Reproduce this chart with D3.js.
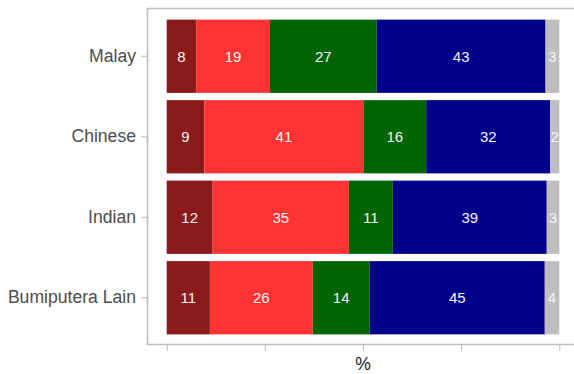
<!DOCTYPE html>
<html><head><meta charset="utf-8">
<script src="https://cdn.jsdelivr.net/npm/d3@7"></script>
<style>body{margin:0;background:#fff}svg{display:block}</style>
</head><body>
<script>
const categories = ["Malay", "Chinese", "Indian", "Bumiputera Lain"];
const seriesNames = ["s1", "s2", "s3", "s4", "s5"];
// bar shares (%) as measured from the bar lengths
const s1 = [7.5, 9.6, 11.7, 11.0];
const s2 = [18.8, 40.5, 34.7, 26.2];
const s3 = [27.2, 16.0, 11.2, 14.5];
const s4 = [43.0, 31.6, 39.2, 44.6];
const s5 = [3.5, 2.3, 3.2, 3.7];
// printed labels
const l1 = [8, 9, 12, 11];
const l2 = [19, 41, 35, 26];
const l3 = [27, 16, 11, 14];
const l4 = [43, 32, 39, 45];
const l5 = [3, 2, 3, 4];
const colors = ["#8B1A1A", "#FF3333", "#006400", "#00008B", "#BEBEBE"];
const xTicks = [0, 25, 50, 75, 100];
const xLabel = "%";

const W = 574, H = 374;
const svg = d3.select("body").append("svg").attr("width", W).attr("height", H);
const font = "'Liberation Sans', Arial, Helvetica, sans-serif";

const x = d3.scaleLinear().domain([0, 100]).range([166.7, 559.3]);
const y = d3.scaleBand().domain(categories).range([16, 338]).paddingInner(0.09).paddingOuter(0.045);

const series = [s1, s2, s3, s4, s5];
const labels = [l1, l2, l3, l4, l5];
const rows = categories.map((c, i) => {
  const r = {cat: c, idx: i};
  seriesNames.forEach((s, j) => r[s] = series[j][i]);
  return r;
});
const stacked = d3.stack().keys(seriesNames)(rows);

// panel border
svg.append("path")
  .attr("d", `M${W + 2},8.5 H147.5 V344.5 H${W + 2}`)
  .attr("fill", "none").attr("stroke", "#BDBDBD").attr("stroke-width", 1.6);

const g = svg.append("g");
stacked.forEach((layer, j) => {
  g.selectAll(null).data(layer).enter().append("rect")
    .attr("x", d => x(d[0]))
    .attr("width", d => x(d[1]) - x(d[0]))
    .attr("y", d => y(d.data.cat))
    .attr("height", y.bandwidth())
    .attr("fill", colors[j]);
  g.selectAll(null).data(layer).enter().append("text")
    .attr("x", d => (x(d[0]) + x(d[1])) / 2)
    .attr("y", d => y(d.data.cat) + y.bandwidth() / 2)
    .attr("dy", "0.36em")
    .attr("text-anchor", "middle")
    .attr("font-family", font).attr("font-size", 15)
    .attr("fill", "#F5F5F5")
    .text(d => labels[j][d.data.idx]);
});

// y axis
const yAxis = svg.append("g").attr("transform", "translate(147,0)")
  .call(d3.axisLeft(y).tickSize(6).tickPadding(5));
yAxis.select(".domain").remove();
yAxis.selectAll(".tick line").attr("stroke", "#BDBDBD");
yAxis.selectAll(".tick text").attr("font-family", font).attr("font-size", 17.6).attr("fill", "#4D4D4D");

// x axis
const xAxis = svg.append("g").attr("transform", "translate(0,345)")
  .call(d3.axisBottom(x).tickValues(xTicks).tickSize(6).tickFormat(""));
xAxis.select(".domain").remove();
xAxis.selectAll(".tick line").attr("stroke", "#BDBDBD");

svg.append("text").attr("x", (x(0) + x(100)) / 2).attr("y", 370)
  .attr("text-anchor", "middle").attr("font-family", font).attr("font-size", 17.6)
  .attr("fill", "#1a1a1a").text(xLabel);
</script>
</body></html>
